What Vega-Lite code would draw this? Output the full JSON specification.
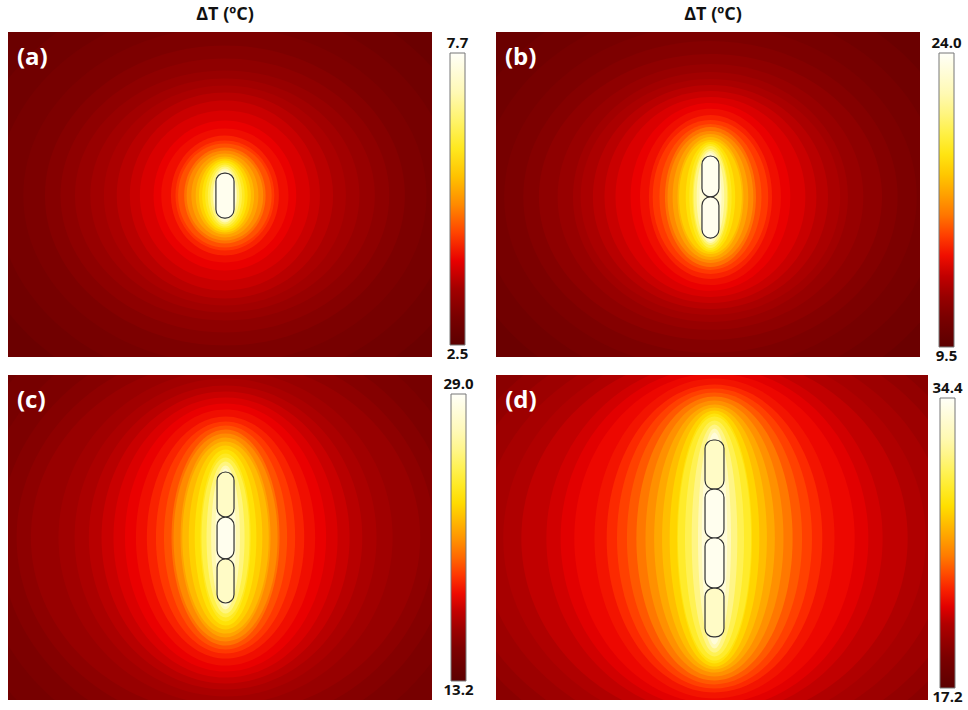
{
  "$schema": "https://vega.github.io/schema/vega-lite/v6.json",
  "background": "white",
  "padding": {"left": 8, "top": 6, "right": 5, "bottom": 5},
  "config": {"view": {"stroke": null}, "font": "Open Sans"},
  "datasets": {
    "iso": [
      {"p": "a", "t": 2.76, "ry": 246, "ar": "1.2", "cx": 3, "cy": -0.6},
      {"p": "a", "t": 2.86, "ry": 132.3, "ar": "1.2", "cx": 3, "cy": -0.6},
      {"p": "a", "t": 2.97, "ry": 116.9, "ar": "1.2", "cx": 3, "cy": -0.6},
      {"p": "a", "t": 3.07, "ry": 103.4, "ar": "1.2", "cx": 3, "cy": -0.6},
      {"p": "a", "t": 3.18, "ry": 92.3, "ar": "1.2", "cx": 3, "cy": -0.6},
      {"p": "a", "t": 3.28, "ry": 84.3, "ar": "1.2", "cx": 3, "cy": -0.6},
      {"p": "a", "t": 3.38, "ry": 76.9, "ar": "1.2", "cx": 3, "cy": -0.6},
      {"p": "a", "t": 3.49, "ry": 72.0, "ar": "1.15", "cx": 3, "cy": -0.6},
      {"p": "a", "t": 3.59, "ry": 67.7, "ar": "1.1", "cx": 3, "cy": -0.6},
      {"p": "a", "t": 3.70, "ry": 63.4, "ar": "1.05", "cx": 3, "cy": -0.6},
      {"p": "a", "t": 3.80, "ry": 58.5, "ar": "1.0", "cx": 3, "cy": -0.6},
      {"p": "a", "t": 3.90, "ry": 52.3, "ar": "1.0", "cx": 3, "cy": -0.6},
      {"p": "a", "t": 4.01, "ry": 46.2, "ar": "0.95", "cx": 3, "cy": -0.6},
      {"p": "a", "t": 4.11, "ry": 41.2, "ar": "0.95", "cx": 3, "cy": -0.6},
      {"p": "a", "t": 4.27, "ry": 36.9, "ar": "0.9", "cx": 3, "cy": -0.6},
      {"p": "a", "t": 4.42, "ry": 33.8, "ar": "0.9", "cx": 3, "cy": -0.6},
      {"p": "a", "t": 4.58, "ry": 32.0, "ar": "0.9", "cx": 3, "cy": -0.6},
      {"p": "a", "t": 4.79, "ry": 29.5, "ar": "0.85", "cx": 3, "cy": -0.6},
      {"p": "a", "t": 5.00, "ry": 27.7, "ar": "0.85", "cx": 3, "cy": -0.6},
      {"p": "a", "t": 5.20, "ry": 25.8, "ar": "0.8", "cx": 3, "cy": -0.6},
      {"p": "a", "t": 5.41, "ry": 24.0, "ar": "0.75", "cx": 3, "cy": -0.6},
      {"p": "a", "t": 5.62, "ry": 22.8, "ar": "0.7", "cx": 3, "cy": -0.6},
      {"p": "a", "t": 5.83, "ry": 21.5, "ar": "0.65", "cx": 3, "cy": -0.6},
      {"p": "a", "t": 6.04, "ry": 20.3, "ar": "0.6", "cx": 3, "cy": -0.6},
      {"p": "a", "t": 6.30, "ry": 19.1, "ar": "0.55", "cx": 3, "cy": -0.6},
      {"p": "a", "t": 6.61, "ry": 17.8, "ar": "0.5", "cx": 3, "cy": -0.6},
      {"p": "a", "t": 6.97, "ry": 16.6, "ar": "0.45", "cx": 3, "cy": -0.6},
      {"p": "a", "t": 7.34, "ry": 15.4, "ar": "0.45", "cx": 3, "cy": -0.6},

      {"p": "b", "t": 10.23, "ry": 246, "ar": "1.2", "cx": 1.5, "cy": -1.5},
      {"p": "b", "t": 10.52, "ry": 132.3, "ar": "1.2", "cx": 1.5, "cy": -1.5},
      {"p": "b", "t": 10.81, "ry": 118.2, "ar": "1.2", "cx": 1.5, "cy": -1.5},
      {"p": "b", "t": 11.10, "ry": 105.8, "ar": "1.2", "cx": 1.5, "cy": -1.5},
      {"p": "b", "t": 11.39, "ry": 96.0, "ar": "1.2", "cx": 1.5, "cy": -1.5},
      {"p": "b", "t": 11.68, "ry": 88.0, "ar": "1.2", "cx": 1.5, "cy": -1.5},
      {"p": "b", "t": 11.97, "ry": 81.8, "ar": "1.15", "cx": 1.5, "cy": -1.5},
      {"p": "b", "t": 12.26, "ry": 76.9, "ar": "1.1", "cx": 1.5, "cy": -1.5},
      {"p": "b", "t": 12.55, "ry": 72.6, "ar": "1.1", "cx": 1.5, "cy": -1.5},
      {"p": "b", "t": 12.84, "ry": 68.9, "ar": "1.05", "cx": 1.5, "cy": -1.5},
      {"p": "b", "t": 13.13, "ry": 65.2, "ar": "1.0", "cx": 1.5, "cy": -1.5},
      {"p": "b", "t": 13.42, "ry": 61.5, "ar": "0.95", "cx": 1.5, "cy": -1.5},
      {"p": "b", "t": 13.71, "ry": 57.8, "ar": "0.85", "cx": 1.5, "cy": -1.5},
      {"p": "b", "t": 14.00, "ry": 54.2, "ar": "0.8", "cx": 1.5, "cy": -1.5},
      {"p": "b", "t": 14.43, "ry": 50.5, "ar": "0.75", "cx": 1.5, "cy": -1.5},
      {"p": "b", "t": 14.87, "ry": 47.4, "ar": "0.75", "cx": 1.5, "cy": -1.5},
      {"p": "b", "t": 15.30, "ry": 44.9, "ar": "0.7", "cx": 1.5, "cy": -1.5},
      {"p": "b", "t": 15.88, "ry": 43.1, "ar": "0.65", "cx": 1.5, "cy": -1.5},
      {"p": "b", "t": 16.46, "ry": 40.6, "ar": "0.65", "cx": 1.5, "cy": -1.5},
      {"p": "b", "t": 17.04, "ry": 38.8, "ar": "0.6", "cx": 1.5, "cy": -1.5},
      {"p": "b", "t": 17.62, "ry": 36.9, "ar": "0.55", "cx": 1.5, "cy": -1.5},
      {"p": "b", "t": 18.20, "ry": 35.1, "ar": "0.55", "cx": 1.5, "cy": -1.5},
      {"p": "b", "t": 18.78, "ry": 33.8, "ar": "0.45", "cx": 1.5, "cy": -1.5},
      {"p": "b", "t": 19.36, "ry": 32.6, "ar": "0.4", "cx": 1.5, "cy": -1.5},
      {"p": "b", "t": 20.09, "ry": 31.4, "ar": "0.35", "cx": 1.5, "cy": -1.5},
      {"p": "b", "t": 20.96, "ry": 29.5, "ar": "0.35", "cx": 1.5, "cy": -1.5},
      {"p": "b", "t": 21.97, "ry": 28.3, "ar": "0.3", "cx": 1.5, "cy": -1.5},
      {"p": "b", "t": 22.99, "ry": 27.1, "ar": "0.25", "cx": 1.5, "cy": -1.5},

      {"p": "c", "t": 14.31, "ry": 246, "ar": "1.2", "cx": 3.4, "cy": 0},
      {"p": "c", "t": 14.62, "ry": 153.8, "ar": "1.1", "cx": 3.4, "cy": 0},
      {"p": "c", "t": 14.94, "ry": 138.5, "ar": "1.1", "cx": 3.4, "cy": 0},
      {"p": "c", "t": 15.25, "ry": 126.2, "ar": "1.1", "cx": 3.4, "cy": 0},
      {"p": "c", "t": 15.57, "ry": 116.9, "ar": "1.1", "cx": 3.4, "cy": 0},
      {"p": "c", "t": 15.89, "ry": 108.9, "ar": "1.1", "cx": 3.4, "cy": 0},
      {"p": "c", "t": 16.20, "ry": 102.8, "ar": "1.0", "cx": 3.4, "cy": 0},
      {"p": "c", "t": 16.52, "ry": 97.8, "ar": "0.95", "cx": 3.4, "cy": 0},
      {"p": "c", "t": 16.83, "ry": 93.5, "ar": "0.9", "cx": 3.4, "cy": 0},
      {"p": "c", "t": 17.15, "ry": 89.8, "ar": "0.85", "cx": 3.4, "cy": 0},
      {"p": "c", "t": 17.47, "ry": 86.2, "ar": "0.8", "cx": 3.4, "cy": 0},
      {"p": "c", "t": 17.78, "ry": 82.5, "ar": "0.75", "cx": 3.4, "cy": 0},
      {"p": "c", "t": 18.10, "ry": 78.8, "ar": "0.7", "cx": 3.4, "cy": 0},
      {"p": "c", "t": 18.57, "ry": 74.5, "ar": "0.65", "cx": 3.4, "cy": 0},
      {"p": "c", "t": 19.05, "ry": 71.4, "ar": "0.6", "cx": 3.4, "cy": 0},
      {"p": "c", "t": 19.52, "ry": 68.9, "ar": "0.55", "cx": 3.4, "cy": 0},
      {"p": "c", "t": 20.15, "ry": 66.5, "ar": "0.5", "cx": 3.4, "cy": 0},
      {"p": "c", "t": 20.78, "ry": 64.0, "ar": "0.5", "cx": 3.4, "cy": 0},
      {"p": "c", "t": 21.42, "ry": 61.5, "ar": "0.45", "cx": 3.4, "cy": 0},
      {"p": "c", "t": 22.05, "ry": 59.1, "ar": "0.45", "cx": 3.4, "cy": 0},
      {"p": "c", "t": 22.68, "ry": 56.6, "ar": "0.4", "cx": 3.4, "cy": 0},
      {"p": "c", "t": 23.31, "ry": 54.2, "ar": "0.35", "cx": 3.4, "cy": 0},
      {"p": "c", "t": 23.94, "ry": 51.7, "ar": "0.3", "cx": 3.4, "cy": 0},
      {"p": "c", "t": 24.73, "ry": 49.2, "ar": "0.3", "cx": 3.4, "cy": 0},
      {"p": "c", "t": 25.68, "ry": 46.8, "ar": "0.25", "cx": 3.4, "cy": 0},
      {"p": "c", "t": 26.79, "ry": 44.3, "ar": "0.2", "cx": 3.4, "cy": 0},
      {"p": "c", "t": 27.89, "ry": 42.5, "ar": "0.15", "cx": 3.4, "cy": 0},

      {"p": "d", "t": 19.26, "ry": 246, "ar": "1.2", "cx": 1.5, "cy": -0.6},
      {"p": "d", "t": 19.61, "ry": 150.8, "ar": "1.2", "cx": 1.5, "cy": -0.6},
      {"p": "d", "t": 19.95, "ry": 140.3, "ar": "1.2", "cx": 1.5, "cy": -0.6},
      {"p": "d", "t": 20.30, "ry": 131.7, "ar": "1.2", "cx": 1.5, "cy": -0.6},
      {"p": "d", "t": 20.64, "ry": 124.3, "ar": "1.15", "cx": 1.5, "cy": -0.6},
      {"p": "d", "t": 20.98, "ry": 118.2, "ar": "1.1", "cx": 1.5, "cy": -0.6},
      {"p": "d", "t": 21.33, "ry": 113.2, "ar": "1.05", "cx": 1.5, "cy": -0.6},
      {"p": "d", "t": 21.67, "ry": 108.9, "ar": "0.95", "cx": 1.5, "cy": -0.6},
      {"p": "d", "t": 22.02, "ry": 105.2, "ar": "0.9", "cx": 1.5, "cy": -0.6},
      {"p": "d", "t": 22.36, "ry": 101.5, "ar": "0.85", "cx": 1.5, "cy": -0.6},
      {"p": "d", "t": 22.70, "ry": 98.5, "ar": "0.75", "cx": 1.5, "cy": -0.6},
      {"p": "d", "t": 23.22, "ry": 94.8, "ar": "0.7", "cx": 1.5, "cy": -0.6},
      {"p": "d", "t": 23.74, "ry": 92.3, "ar": "0.65", "cx": 1.5, "cy": -0.6},
      {"p": "d", "t": 24.25, "ry": 89.8, "ar": "0.6", "cx": 1.5, "cy": -0.6},
      {"p": "d", "t": 24.94, "ry": 87.4, "ar": "0.55", "cx": 1.5, "cy": -0.6},
      {"p": "d", "t": 25.63, "ry": 84.9, "ar": "0.5", "cx": 1.5, "cy": -0.6},
      {"p": "d", "t": 26.32, "ry": 82.5, "ar": "0.45", "cx": 1.5, "cy": -0.6},
      {"p": "d", "t": 27.00, "ry": 80.6, "ar": "0.4", "cx": 1.5, "cy": -0.6},
      {"p": "d", "t": 27.69, "ry": 78.8, "ar": "0.35", "cx": 1.5, "cy": -0.6},
      {"p": "d", "t": 28.38, "ry": 76.9, "ar": "0.3", "cx": 1.5, "cy": -0.6},
      {"p": "d", "t": 29.07, "ry": 75.1, "ar": "0.3", "cx": 1.5, "cy": -0.6},
      {"p": "d", "t": 29.93, "ry": 72.6, "ar": "0.25", "cx": 1.5, "cy": -0.6},
      {"p": "d", "t": 30.96, "ry": 70.2, "ar": "0.2", "cx": 1.5, "cy": -0.6},
      {"p": "d", "t": 32.16, "ry": 67.7, "ar": "0.15", "cx": 1.5, "cy": -0.6},
      {"p": "d", "t": 33.37, "ry": 65.2, "ar": "0.12", "cx": 1.5, "cy": -0.6}
    ],
    "rods": [
      {"p": "a", "t": 7.6, "x1": -2.5, "x2": 8.6, "y1": -14.5, "y2": 13.2},
      {"p": "b", "t": 23.71, "x1": -3.7, "x2": 6.7, "y1": -1.5, "y2": 23.7},
      {"p": "b", "t": 23.71, "x1": -3.7, "x2": 6.7, "y1": -26.8, "y2": -1.5},
      {"p": "c", "t": 27.42, "x1": -1.8, "x2": 8.6, "y1": 12.6, "y2": 40.3},
      {"p": "c", "t": 28.68, "x1": -1.8, "x2": 8.6, "y1": -13.2, "y2": 12.6},
      {"p": "c", "t": 27.42, "x1": -1.8, "x2": 8.6, "y1": -40.3, "y2": -13.2},
      {"p": "d", "t": 32.68, "x1": -4.2, "x2": 7.2, "y1": 29.8, "y2": 60.0},
      {"p": "d", "t": 34.06, "x1": -4.2, "x2": 7.2, "y1": -0.3, "y2": 29.8},
      {"p": "d", "t": 34.06, "x1": -4.2, "x2": 7.2, "y1": -31.1, "y2": -0.3},
      {"p": "d", "t": 32.68, "x1": -4.2, "x2": 7.2, "y1": -61.2, "y2": -31.1}
    ]
  },
  "columns": 2,
  "spacing": {"row": 18, "column": 64},
  "bounds": "flush",
  "resolve": {
    "scale": {"color": "independent", "size": "independent", "shape": "independent", "x": "independent", "y": "independent"},
    "legend": {"color": "independent"}
  },
  "concat": [
    {
      "width": 424, "height": 325,
      "title": {"text": "ΔT (ºC)", "fontSize": 18, "fontWeight": "bold", "font": "Open Sans", "color": "#111111", "offset": 8, "anchor": "middle", "frame": "group", "dx": 5},
      "encoding": {"color": {"field": "t", "type": "quantitative",
        "scale": {"domain": [2.5,3.12,3.64,4.01,4.37,4.84,5.26,5.78,6.24,6.87,7.7], "range": ["#5c0000","#800000","#b00000","#ea0000","#ff3000","#ff7800","#ffa800","#ffe000","#fff040","#fff8a8","#fffff8"], "interpolate": "rgb"},
        "legend": {"title": null, "orient": "none", "legendX": 442, "legendY": 21, "direction": "vertical", "gradientLength": 292, "gradientThickness": 15, "values": [2.5, 7.7], "format": ".1f", "gradientStrokeColor": "#777777", "gradientStrokeWidth": 1, "labelFont": "Open Sans", "labelFontSize": 15, "labelFontWeight": "bold", "labelColor": "#111111", "labelOverlap": false, "labelAlign": "center", "labelOffset": -7.5, "padding": 0,
          "encode": {"labels": {"update": {"align": {"value": "center"}, "baseline": {"signal": "datum.value > 5 ? 'bottom' : 'top'"}, "dy": {"signal": "datum.value > 5 ? -2 : 2"}}}}}}},
      "layer": [
        {"data": {"name": "iso"}, "transform": [{"filter": "datum.p === 'a'"}],
         "mark": {"type": "point", "filled": true, "opacity": 1, "strokeWidth": 0, "clip": true},
         "encoding": {
           "x": {"field": "cx", "type": "quantitative", "scale": {"domain": [-130, 130], "nice": false, "zero": false}, "axis": null},
           "y": {"field": "cy", "type": "quantitative", "scale": {"domain": [-100, 100], "nice": false, "zero": false}, "axis": null},
           "size": {"field": "ry", "type": "quantitative", "scale": {"type": "pow", "exponent": 2, "domain": [0, 100], "range": [0, 105625]}, "legend": null},
           "shape": {"field": "ar", "type": "nominal", "scale": {"domain": ["0.12","0.15","0.2","0.25","0.3","0.35","0.4","0.45","0.5","0.55","0.6","0.65","0.7","0.75","0.8","0.85","0.9","0.95","1.0","1.05","1.1","1.15","1.2"], "range": ["M-0.12,0A0.12,1,0,1,1,0.12,0A0.12,1,0,1,1,-0.12,0Z","M-0.15,0A0.15,1,0,1,1,0.15,0A0.15,1,0,1,1,-0.15,0Z","M-0.2,0A0.2,1,0,1,1,0.2,0A0.2,1,0,1,1,-0.2,0Z","M-0.25,0A0.25,1,0,1,1,0.25,0A0.25,1,0,1,1,-0.25,0Z","M-0.3,0A0.3,1,0,1,1,0.3,0A0.3,1,0,1,1,-0.3,0Z","M-0.35,0A0.35,1,0,1,1,0.35,0A0.35,1,0,1,1,-0.35,0Z","M-0.4,0A0.4,1,0,1,1,0.4,0A0.4,1,0,1,1,-0.4,0Z","M-0.45,0A0.45,1,0,1,1,0.45,0A0.45,1,0,1,1,-0.45,0Z","M-0.5,0A0.5,1,0,1,1,0.5,0A0.5,1,0,1,1,-0.5,0Z","M-0.55,0A0.55,1,0,1,1,0.55,0A0.55,1,0,1,1,-0.55,0Z","M-0.6,0A0.6,1,0,1,1,0.6,0A0.6,1,0,1,1,-0.6,0Z","M-0.65,0A0.65,1,0,1,1,0.65,0A0.65,1,0,1,1,-0.65,0Z","M-0.7,0A0.7,1,0,1,1,0.7,0A0.7,1,0,1,1,-0.7,0Z","M-0.75,0A0.75,1,0,1,1,0.75,0A0.75,1,0,1,1,-0.75,0Z","M-0.8,0A0.8,1,0,1,1,0.8,0A0.8,1,0,1,1,-0.8,0Z","M-0.85,0A0.85,1,0,1,1,0.85,0A0.85,1,0,1,1,-0.85,0Z","M-0.9,0A0.9,1,0,1,1,0.9,0A0.9,1,0,1,1,-0.9,0Z","M-0.95,0A0.95,1,0,1,1,0.95,0A0.95,1,0,1,1,-0.95,0Z","M-1,0A1,1,0,1,1,1,0A1,1,0,1,1,-1,0Z","M-1.05,0A1.05,1,0,1,1,1.05,0A1.05,1,0,1,1,-1.05,0Z","M-1.1,0A1.1,1,0,1,1,1.1,0A1.1,1,0,1,1,-1.1,0Z","M-1.15,0A1.15,1,0,1,1,1.15,0A1.15,1,0,1,1,-1.15,0Z","M-1.2,0A1.2,1,0,1,1,1.2,0A1.2,1,0,1,1,-1.2,0Z"]}, "legend": null},
           "order": {"field": "t", "type": "quantitative"}
         }},
        {"data": {"name": "rods"}, "transform": [{"filter": "datum.p === 'a'"}],
         "mark": {"type": "rect", "cornerRadius": 8.5, "stroke": "#333333", "strokeWidth": 1.2},
         "encoding": {
           "x": {"field": "x1", "type": "quantitative", "scale": {"domain": [-130, 130], "nice": false, "zero": false}, "axis": null}, "x2": {"field": "x2"},
           "y": {"field": "y1", "type": "quantitative", "scale": {"domain": [-100, 100], "nice": false, "zero": false}, "axis": null}, "y2": {"field": "y2"}}},
        {"data": {"values": [{"lab": "(a)"}]},
         "mark": {"type": "text", "align": "left", "baseline": "middle", "fontSize": 24, "fontWeight": "bold", "font": "Open Sans"},
         "encoding": {"x": {"datum": -124.5, "type": "quantitative"}, "y": {"datum": 84, "type": "quantitative"}, "text": {"field": "lab"}, "color": {"value": "white"}}}
      ]
    },
    {
      "width": 424, "height": 325,
      "title": {"text": "ΔT (ºC)", "fontSize": 18, "fontWeight": "bold", "font": "Open Sans", "color": "#111111", "offset": 8, "anchor": "middle", "frame": "group", "dx": 5},
      "encoding": {"color": {"field": "t", "type": "quantitative",
        "scale": {"domain": [9.5,11.24,12.69,13.71,14.72,16.03,17.19,18.64,19.94,21.68,24.0], "range": ["#5c0000","#800000","#b00000","#ea0000","#ff3000","#ff7800","#ffa800","#ffe000","#fff040","#fff8a8","#fffff8"], "interpolate": "rgb"},
        "legend": {"title": null, "orient": "none", "legendX": 443, "legendY": 21, "direction": "vertical", "gradientLength": 294, "gradientThickness": 15, "values": [9.5, 24.0], "format": ".1f", "gradientStrokeColor": "#777777", "gradientStrokeWidth": 1, "labelFont": "Open Sans", "labelFontSize": 15, "labelFontWeight": "bold", "labelColor": "#111111", "labelOverlap": false, "labelAlign": "center", "labelOffset": -7.5, "padding": 0,
          "encode": {"labels": {"update": {"align": {"value": "center"}, "baseline": {"signal": "datum.value > 16 ? 'bottom' : 'top'"}, "dy": {"signal": "datum.value > 16 ? -2 : 2"}}}}}}},
      "layer": [
        {"data": {"name": "iso"}, "transform": [{"filter": "datum.p === 'b'"}],
         "mark": {"type": "point", "filled": true, "opacity": 1, "strokeWidth": 0, "clip": true},
         "encoding": {
           "x": {"field": "cx", "type": "quantitative", "scale": {"domain": [-130, 130], "nice": false, "zero": false}, "axis": null},
           "y": {"field": "cy", "type": "quantitative", "scale": {"domain": [-100, 100], "nice": false, "zero": false}, "axis": null},
           "size": {"field": "ry", "type": "quantitative", "scale": {"type": "pow", "exponent": 2, "domain": [0, 100], "range": [0, 105625]}, "legend": null},
           "shape": {"field": "ar", "type": "nominal", "scale": {"domain": ["0.12","0.15","0.2","0.25","0.3","0.35","0.4","0.45","0.5","0.55","0.6","0.65","0.7","0.75","0.8","0.85","0.9","0.95","1.0","1.05","1.1","1.15","1.2"], "range": ["M-0.12,0A0.12,1,0,1,1,0.12,0A0.12,1,0,1,1,-0.12,0Z","M-0.15,0A0.15,1,0,1,1,0.15,0A0.15,1,0,1,1,-0.15,0Z","M-0.2,0A0.2,1,0,1,1,0.2,0A0.2,1,0,1,1,-0.2,0Z","M-0.25,0A0.25,1,0,1,1,0.25,0A0.25,1,0,1,1,-0.25,0Z","M-0.3,0A0.3,1,0,1,1,0.3,0A0.3,1,0,1,1,-0.3,0Z","M-0.35,0A0.35,1,0,1,1,0.35,0A0.35,1,0,1,1,-0.35,0Z","M-0.4,0A0.4,1,0,1,1,0.4,0A0.4,1,0,1,1,-0.4,0Z","M-0.45,0A0.45,1,0,1,1,0.45,0A0.45,1,0,1,1,-0.45,0Z","M-0.5,0A0.5,1,0,1,1,0.5,0A0.5,1,0,1,1,-0.5,0Z","M-0.55,0A0.55,1,0,1,1,0.55,0A0.55,1,0,1,1,-0.55,0Z","M-0.6,0A0.6,1,0,1,1,0.6,0A0.6,1,0,1,1,-0.6,0Z","M-0.65,0A0.65,1,0,1,1,0.65,0A0.65,1,0,1,1,-0.65,0Z","M-0.7,0A0.7,1,0,1,1,0.7,0A0.7,1,0,1,1,-0.7,0Z","M-0.75,0A0.75,1,0,1,1,0.75,0A0.75,1,0,1,1,-0.75,0Z","M-0.8,0A0.8,1,0,1,1,0.8,0A0.8,1,0,1,1,-0.8,0Z","M-0.85,0A0.85,1,0,1,1,0.85,0A0.85,1,0,1,1,-0.85,0Z","M-0.9,0A0.9,1,0,1,1,0.9,0A0.9,1,0,1,1,-0.9,0Z","M-0.95,0A0.95,1,0,1,1,0.95,0A0.95,1,0,1,1,-0.95,0Z","M-1,0A1,1,0,1,1,1,0A1,1,0,1,1,-1,0Z","M-1.05,0A1.05,1,0,1,1,1.05,0A1.05,1,0,1,1,-1.05,0Z","M-1.1,0A1.1,1,0,1,1,1.1,0A1.1,1,0,1,1,-1.1,0Z","M-1.15,0A1.15,1,0,1,1,1.15,0A1.15,1,0,1,1,-1.15,0Z","M-1.2,0A1.2,1,0,1,1,1.2,0A1.2,1,0,1,1,-1.2,0Z"]}, "legend": null},
           "order": {"field": "t", "type": "quantitative"}
         }},
        {"data": {"name": "rods"}, "transform": [{"filter": "datum.p === 'b'"}],
         "mark": {"type": "rect", "cornerRadius": 8.5, "stroke": "#333333", "strokeWidth": 1.2},
         "encoding": {
           "x": {"field": "x1", "type": "quantitative", "scale": {"domain": [-130, 130], "nice": false, "zero": false}, "axis": null}, "x2": {"field": "x2"},
           "y": {"field": "y1", "type": "quantitative", "scale": {"domain": [-100, 100], "nice": false, "zero": false}, "axis": null}, "y2": {"field": "y2"}}},
        {"data": {"values": [{"lab": "(b)"}]},
         "mark": {"type": "text", "align": "left", "baseline": "middle", "fontSize": 24, "fontWeight": "bold", "font": "Open Sans"},
         "encoding": {"x": {"datum": -124.5, "type": "quantitative"}, "y": {"datum": 84, "type": "quantitative"}, "text": {"field": "lab"}, "color": {"value": "white"}}}
      ]
    },
    {
      "width": 424, "height": 325,
      "encoding": {"color": {"field": "t", "type": "quantitative",
        "scale": {"domain": [13.2,15.1,16.68,17.78,18.89,20.31,21.57,23.15,24.58,26.47,29.0], "range": ["#5c0000","#800000","#b00000","#ea0000","#ff3000","#ff7800","#ffa800","#ffe000","#fff040","#fff8a8","#fffff8"], "interpolate": "rgb"},
        "legend": {"title": null, "orient": "none", "legendX": 443, "legendY": 19, "direction": "vertical", "gradientLength": 287, "gradientThickness": 15, "values": [13.2, 29.0], "format": ".1f", "gradientStrokeColor": "#777777", "gradientStrokeWidth": 1, "labelFont": "Open Sans", "labelFontSize": 15, "labelFontWeight": "bold", "labelColor": "#111111", "labelOverlap": false, "labelAlign": "center", "labelOffset": -7.5, "padding": 0,
          "encode": {"labels": {"update": {"align": {"value": "center"}, "baseline": {"signal": "datum.value > 20 ? 'bottom' : 'top'"}, "dy": {"signal": "datum.value > 20 ? -2 : 2"}}}}}}},
      "layer": [
        {"data": {"name": "iso"}, "transform": [{"filter": "datum.p === 'c'"}],
         "mark": {"type": "point", "filled": true, "opacity": 1, "strokeWidth": 0, "clip": true},
         "encoding": {
           "x": {"field": "cx", "type": "quantitative", "scale": {"domain": [-130, 130], "nice": false, "zero": false}, "axis": null},
           "y": {"field": "cy", "type": "quantitative", "scale": {"domain": [-100, 100], "nice": false, "zero": false}, "axis": null},
           "size": {"field": "ry", "type": "quantitative", "scale": {"type": "pow", "exponent": 2, "domain": [0, 100], "range": [0, 105625]}, "legend": null},
           "shape": {"field": "ar", "type": "nominal", "scale": {"domain": ["0.12","0.15","0.2","0.25","0.3","0.35","0.4","0.45","0.5","0.55","0.6","0.65","0.7","0.75","0.8","0.85","0.9","0.95","1.0","1.05","1.1","1.15","1.2"], "range": ["M-0.12,0A0.12,1,0,1,1,0.12,0A0.12,1,0,1,1,-0.12,0Z","M-0.15,0A0.15,1,0,1,1,0.15,0A0.15,1,0,1,1,-0.15,0Z","M-0.2,0A0.2,1,0,1,1,0.2,0A0.2,1,0,1,1,-0.2,0Z","M-0.25,0A0.25,1,0,1,1,0.25,0A0.25,1,0,1,1,-0.25,0Z","M-0.3,0A0.3,1,0,1,1,0.3,0A0.3,1,0,1,1,-0.3,0Z","M-0.35,0A0.35,1,0,1,1,0.35,0A0.35,1,0,1,1,-0.35,0Z","M-0.4,0A0.4,1,0,1,1,0.4,0A0.4,1,0,1,1,-0.4,0Z","M-0.45,0A0.45,1,0,1,1,0.45,0A0.45,1,0,1,1,-0.45,0Z","M-0.5,0A0.5,1,0,1,1,0.5,0A0.5,1,0,1,1,-0.5,0Z","M-0.55,0A0.55,1,0,1,1,0.55,0A0.55,1,0,1,1,-0.55,0Z","M-0.6,0A0.6,1,0,1,1,0.6,0A0.6,1,0,1,1,-0.6,0Z","M-0.65,0A0.65,1,0,1,1,0.65,0A0.65,1,0,1,1,-0.65,0Z","M-0.7,0A0.7,1,0,1,1,0.7,0A0.7,1,0,1,1,-0.7,0Z","M-0.75,0A0.75,1,0,1,1,0.75,0A0.75,1,0,1,1,-0.75,0Z","M-0.8,0A0.8,1,0,1,1,0.8,0A0.8,1,0,1,1,-0.8,0Z","M-0.85,0A0.85,1,0,1,1,0.85,0A0.85,1,0,1,1,-0.85,0Z","M-0.9,0A0.9,1,0,1,1,0.9,0A0.9,1,0,1,1,-0.9,0Z","M-0.95,0A0.95,1,0,1,1,0.95,0A0.95,1,0,1,1,-0.95,0Z","M-1,0A1,1,0,1,1,1,0A1,1,0,1,1,-1,0Z","M-1.05,0A1.05,1,0,1,1,1.05,0A1.05,1,0,1,1,-1.05,0Z","M-1.1,0A1.1,1,0,1,1,1.1,0A1.1,1,0,1,1,-1.1,0Z","M-1.15,0A1.15,1,0,1,1,1.15,0A1.15,1,0,1,1,-1.15,0Z","M-1.2,0A1.2,1,0,1,1,1.2,0A1.2,1,0,1,1,-1.2,0Z"]}, "legend": null},
           "order": {"field": "t", "type": "quantitative"}
         }},
        {"data": {"name": "rods"}, "transform": [{"filter": "datum.p === 'c'"}],
         "mark": {"type": "rect", "cornerRadius": 8.5, "stroke": "#333333", "strokeWidth": 1.2},
         "encoding": {
           "x": {"field": "x1", "type": "quantitative", "scale": {"domain": [-130, 130], "nice": false, "zero": false}, "axis": null}, "x2": {"field": "x2"},
           "y": {"field": "y1", "type": "quantitative", "scale": {"domain": [-100, 100], "nice": false, "zero": false}, "axis": null}, "y2": {"field": "y2"}}},
        {"data": {"values": [{"lab": "(c)"}]},
         "mark": {"type": "text", "align": "left", "baseline": "middle", "fontSize": 24, "fontWeight": "bold", "font": "Open Sans"},
         "encoding": {"x": {"datum": -124.5, "type": "quantitative"}, "y": {"datum": 84, "type": "quantitative"}, "text": {"field": "lab"}, "color": {"value": "white"}}}
      ]
    },
    {
      "width": 432, "height": 325,
      "encoding": {"color": {"field": "t", "type": "quantitative",
        "scale": {"domain": [17.2,19.26,20.98,22.19,23.39,24.94,26.32,28.04,29.58,31.65,34.4], "range": ["#5c0000","#800000","#b00000","#ea0000","#ff3000","#ff7800","#ffa800","#ffe000","#fff040","#fff8a8","#fffff8"], "interpolate": "rgb"},
        "legend": {"title": null, "orient": "none", "legendX": 444, "legendY": 23, "direction": "vertical", "gradientLength": 290, "gradientThickness": 15, "values": [17.2, 34.4], "format": ".1f", "gradientStrokeColor": "#777777", "gradientStrokeWidth": 1, "labelFont": "Open Sans", "labelFontSize": 15, "labelFontWeight": "bold", "labelColor": "#111111", "labelOverlap": false, "labelAlign": "center", "labelOffset": -7.5, "padding": 0,
          "encode": {"labels": {"update": {"align": {"value": "center"}, "baseline": {"signal": "datum.value > 25 ? 'bottom' : 'top'"}, "dy": {"signal": "datum.value > 25 ? -2 : 2"}}}}}}},
      "layer": [
        {"data": {"name": "iso"}, "transform": [{"filter": "datum.p === 'd'"}],
         "mark": {"type": "point", "filled": true, "opacity": 1, "strokeWidth": 0, "clip": true},
         "encoding": {
           "x": {"field": "cx", "type": "quantitative", "scale": {"domain": [-130, 130], "nice": false, "zero": false}, "axis": null},
           "y": {"field": "cy", "type": "quantitative", "scale": {"domain": [-100, 100], "nice": false, "zero": false}, "axis": null},
           "size": {"field": "ry", "type": "quantitative", "scale": {"type": "pow", "exponent": 2, "domain": [0, 100], "range": [0, 105625]}, "legend": null},
           "shape": {"field": "ar", "type": "nominal", "scale": {"domain": ["0.12","0.15","0.2","0.25","0.3","0.35","0.4","0.45","0.5","0.55","0.6","0.65","0.7","0.75","0.8","0.85","0.9","0.95","1.0","1.05","1.1","1.15","1.2"], "range": ["M-0.12,0A0.12,1,0,1,1,0.12,0A0.12,1,0,1,1,-0.12,0Z","M-0.15,0A0.15,1,0,1,1,0.15,0A0.15,1,0,1,1,-0.15,0Z","M-0.2,0A0.2,1,0,1,1,0.2,0A0.2,1,0,1,1,-0.2,0Z","M-0.25,0A0.25,1,0,1,1,0.25,0A0.25,1,0,1,1,-0.25,0Z","M-0.3,0A0.3,1,0,1,1,0.3,0A0.3,1,0,1,1,-0.3,0Z","M-0.35,0A0.35,1,0,1,1,0.35,0A0.35,1,0,1,1,-0.35,0Z","M-0.4,0A0.4,1,0,1,1,0.4,0A0.4,1,0,1,1,-0.4,0Z","M-0.45,0A0.45,1,0,1,1,0.45,0A0.45,1,0,1,1,-0.45,0Z","M-0.5,0A0.5,1,0,1,1,0.5,0A0.5,1,0,1,1,-0.5,0Z","M-0.55,0A0.55,1,0,1,1,0.55,0A0.55,1,0,1,1,-0.55,0Z","M-0.6,0A0.6,1,0,1,1,0.6,0A0.6,1,0,1,1,-0.6,0Z","M-0.65,0A0.65,1,0,1,1,0.65,0A0.65,1,0,1,1,-0.65,0Z","M-0.7,0A0.7,1,0,1,1,0.7,0A0.7,1,0,1,1,-0.7,0Z","M-0.75,0A0.75,1,0,1,1,0.75,0A0.75,1,0,1,1,-0.75,0Z","M-0.8,0A0.8,1,0,1,1,0.8,0A0.8,1,0,1,1,-0.8,0Z","M-0.85,0A0.85,1,0,1,1,0.85,0A0.85,1,0,1,1,-0.85,0Z","M-0.9,0A0.9,1,0,1,1,0.9,0A0.9,1,0,1,1,-0.9,0Z","M-0.95,0A0.95,1,0,1,1,0.95,0A0.95,1,0,1,1,-0.95,0Z","M-1,0A1,1,0,1,1,1,0A1,1,0,1,1,-1,0Z","M-1.05,0A1.05,1,0,1,1,1.05,0A1.05,1,0,1,1,-1.05,0Z","M-1.1,0A1.1,1,0,1,1,1.1,0A1.1,1,0,1,1,-1.1,0Z","M-1.15,0A1.15,1,0,1,1,1.15,0A1.15,1,0,1,1,-1.15,0Z","M-1.2,0A1.2,1,0,1,1,1.2,0A1.2,1,0,1,1,-1.2,0Z"]}, "legend": null},
           "order": {"field": "t", "type": "quantitative"}
         }},
        {"data": {"name": "rods"}, "transform": [{"filter": "datum.p === 'd'"}],
         "mark": {"type": "rect", "cornerRadius": 8.5, "stroke": "#333333", "strokeWidth": 1.2},
         "encoding": {
           "x": {"field": "x1", "type": "quantitative", "scale": {"domain": [-130, 130], "nice": false, "zero": false}, "axis": null}, "x2": {"field": "x2"},
           "y": {"field": "y1", "type": "quantitative", "scale": {"domain": [-100, 100], "nice": false, "zero": false}, "axis": null}, "y2": {"field": "y2"}}},
        {"data": {"values": [{"lab": "(d)"}]},
         "mark": {"type": "text", "align": "left", "baseline": "middle", "fontSize": 24, "fontWeight": "bold", "font": "Open Sans"},
         "encoding": {"x": {"datum": -124.5, "type": "quantitative"}, "y": {"datum": 84, "type": "quantitative"}, "text": {"field": "lab"}, "color": {"value": "white"}}}
      ]
    }
  ]
}
